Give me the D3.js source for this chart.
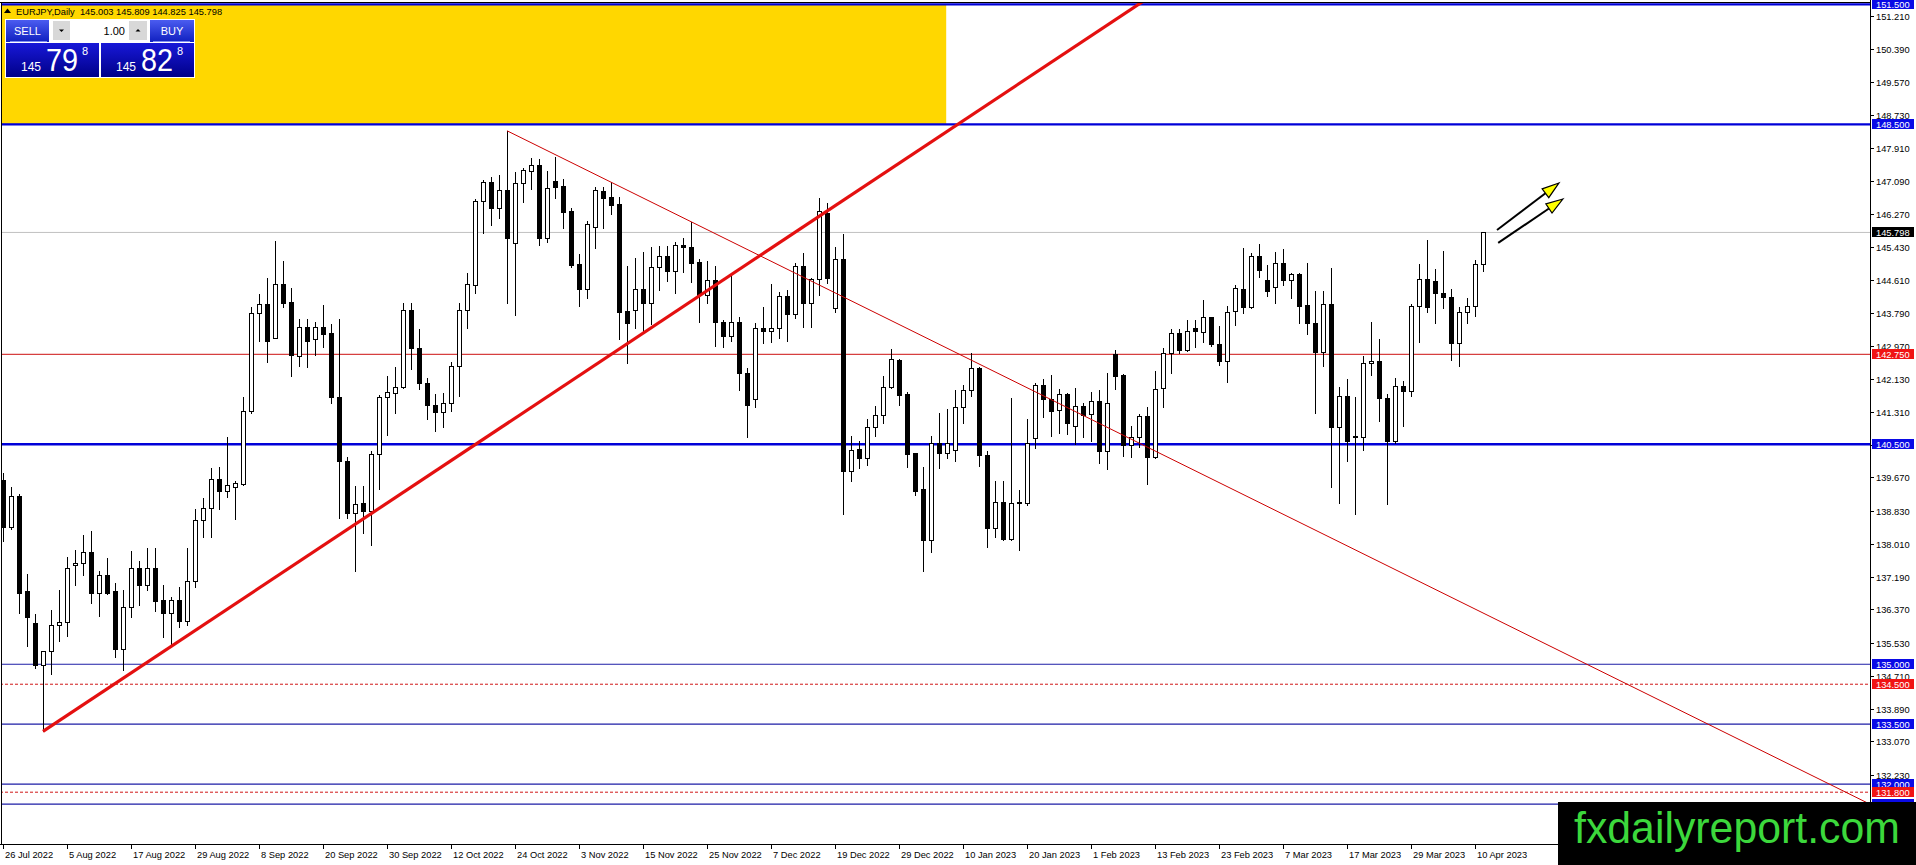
<!DOCTYPE html>
<html lang="en">
<head>
<meta charset="UTF-8">
<title>EURJPY, Daily</title>
<script src="https://d3js.org/d3.v7.min.js"></script>
<style>
    html, body {
        margin: 0;
        padding: 0;
        background: #fff;
        overflow: hidden;
    }
    svg {
        display: block;
        font-family: "Liberation Sans", Arial, sans-serif;
    }
</style>
</head>
<body>
<svg id="chart" width="1916" height="865"></svg>
<script>
// daily candles, 26 Jul 2022 .. 12 Apr 2023 (bar index = position)
const opens = [
    139.61, 138.43, 139.21, 136.82, 136.03, 134.99, 135.32, 135.97, 136.05, 137.47,
    137.53, 137.80, 136.79, 137.24, 136.82, 135.38, 136.43, 137.40, 136.98, 137.40,
    136.61, 136.28, 136.61, 136.09, 137.08, 138.61, 138.90, 139.63, 139.34, 139.43,
    139.51, 141.34, 143.79, 144.00, 143.15, 144.50, 144.07, 142.71, 143.44, 143.13,
    143.44, 143.28, 141.68, 140.07, 138.78, 139.03, 138.82, 140.25, 141.68, 141.78,
    141.93, 143.86, 142.92, 142.03, 141.47, 141.30, 141.53, 142.46, 143.86, 144.49,
    146.59, 147.07, 146.40, 146.86, 145.53, 147.03, 147.34, 147.49, 145.67, 147.08,
    146.96, 146.33, 145.01, 144.39, 145.94, 146.84, 146.68, 146.51, 143.84, 143.86,
    144.38, 144.04, 144.93, 145.21, 144.84, 145.48, 145.44, 145.07, 144.24, 144.61,
    143.57, 143.21, 143.57, 142.28, 141.63, 143.40, 143.34, 143.42, 144.21, 143.76,
    144.96, 144.04, 144.63, 146.28, 143.90, 145.14, 139.84, 140.38, 140.15, 140.94,
    141.23, 141.93, 142.61, 141.75, 140.28, 139.38, 138.11, 140.54, 140.29, 140.36,
    141.43, 141.86, 142.40, 140.23, 138.40, 139.05, 138.13, 139.03, 139.03, 140.65,
    141.99, 141.63, 141.36, 141.76, 140.96, 141.46, 141.26, 141.58, 140.32, 142.76,
    142.23, 140.49, 140.69, 141.21, 140.18, 141.90, 142.79, 143.29, 142.86, 143.40,
    143.32, 143.68, 143.01, 142.59, 143.84, 144.38, 143.94, 145.21, 144.61, 144.43,
    145.04, 144.61, 144.75, 143.99, 143.53, 142.82, 144.00, 140.94, 141.72, 140.71,
    140.68, 142.54, 142.59, 141.65, 140.59, 141.97, 141.84, 143.97, 144.63, 144.59,
    144.28, 144.18, 143.03, 143.80, 143.97, 145.003
];
const highs = [
    139.78, 139.44, 139.26, 137.26, 136.26, 135.34, 136.36, 136.86, 137.68, 137.86,
    138.23, 138.32, 137.32, 137.65, 137.03, 136.86, 137.82, 137.59, 137.90, 137.90,
    136.98, 136.69, 136.93, 137.90, 138.88, 139.15, 139.90, 139.93, 140.69, 139.57,
    141.69, 143.93, 144.26, 144.65, 145.59, 145.09, 144.40, 143.64, 143.64, 143.57,
    143.99, 143.50, 143.64, 140.18, 139.46, 139.46, 140.34, 141.74, 142.21, 142.43,
    144.03, 144.03, 143.39, 142.17, 141.75, 141.78, 142.57, 144.04, 144.78, 146.64,
    147.11, 147.19, 147.23, 148.34, 147.32, 147.42, 147.65, 147.63, 147.34, 147.69,
    147.13, 146.40, 145.26, 146.09, 146.93, 146.93, 147.07, 146.68, 144.97, 145.17,
    145.32, 145.44, 145.46, 145.46, 145.57, 145.65, 146.07, 145.13, 145.09, 144.96,
    143.61, 144.78, 143.68, 142.40, 143.54, 143.94, 144.50, 144.32, 144.36, 145.04,
    145.28, 144.67, 146.65, 146.54, 145.43, 145.76, 140.71, 140.59, 141.13, 141.46,
    142.21, 142.89, 142.63, 141.80, 140.29, 139.93, 140.71, 141.28, 141.38, 141.86,
    141.99, 142.79, 142.44, 140.33, 139.57, 139.57, 141.65, 139.36, 141.13, 142.03,
    142.13, 142.24, 141.88, 141.78, 141.90, 141.54, 141.82, 141.86, 142.28, 142.85,
    142.25, 140.96, 141.25, 141.44, 142.34, 142.90, 143.38, 143.38, 143.61, 143.61,
    144.11, 143.69, 143.47, 143.96, 144.49, 145.40, 145.28, 145.51, 144.99, 145.32,
    145.38, 144.79, 144.78, 145.03, 144.34, 144.34, 144.90, 141.93, 142.13, 141.68,
    142.71, 143.55, 143.14, 141.76, 142.15, 142.09, 144.00, 145.01, 145.61, 144.88,
    145.34, 144.39, 143.94, 144.17, 145.11, 145.809
];
const lows = [
    138.07, 138.38, 136.29, 135.46, 134.90, 133.32, 134.76, 135.57, 135.71, 136.98,
    137.24, 136.53, 136.21, 136.75, 135.19, 134.86, 136.19, 136.48, 136.86, 136.32,
    135.68, 135.48, 135.94, 135.98, 136.94, 138.19, 138.19, 138.88, 139.19, 138.63,
    139.48, 141.29, 143.09, 142.57, 143.15, 143.94, 142.22, 142.47, 142.44, 142.73,
    142.94, 141.54, 138.65, 138.65, 137.32, 138.28, 137.99, 139.38, 140.72, 141.29,
    141.90, 142.38, 141.88, 141.13, 140.82, 140.93, 141.32, 141.71, 143.40, 144.29,
    145.78, 145.98, 146.15, 144.04, 143.74, 146.57, 146.89, 145.49, 145.55, 146.65,
    145.90, 144.94, 143.97, 144.17, 145.42, 145.92, 146.25, 143.13, 142.53, 143.40,
    143.29, 143.50, 144.36, 144.59, 144.28, 144.82, 144.57, 143.57, 144.03, 142.96,
    142.94, 143.09, 141.86, 140.69, 141.44, 143.03, 143.07, 143.17, 143.09, 143.65,
    143.44, 143.43, 144.24, 144.53, 143.82, 138.76, 139.57, 139.90, 139.98, 140.71,
    141.04, 141.90, 141.49, 139.92, 139.22, 137.32, 137.80, 139.90, 140.15, 140.09,
    141.03, 141.72, 139.96, 137.94, 138.17, 138.10, 138.10, 137.86, 138.97, 140.40,
    141.19, 140.71, 140.79, 140.76, 140.51, 140.68, 140.57, 140.03, 139.88, 141.89,
    140.21, 140.19, 140.44, 139.50, 140.15, 141.44, 142.28, 142.78, 142.84, 142.94,
    143.07, 142.97, 142.49, 142.07, 143.49, 143.79, 143.90, 144.69, 144.21, 144.04,
    144.49, 144.17, 143.53, 143.26, 141.29, 142.47, 139.43, 139.04, 140.07, 138.75,
    140.36, 142.24, 141.09, 139.00, 140.53, 140.96, 141.72, 143.07, 143.82, 143.54,
    143.90, 142.61, 142.47, 143.53, 143.72, 144.825
];
const closes = [
    138.44, 139.21, 136.79, 136.17, 134.99, 135.32, 135.97, 136.05, 137.40, 137.53,
    137.80, 136.79, 137.24, 136.79, 135.38, 136.43, 137.40, 136.98, 137.40, 136.59,
    136.28, 136.61, 136.09, 137.08, 138.61, 138.90, 139.63, 139.34, 139.48, 139.53,
    141.34, 143.79, 144.00, 143.09, 144.50, 144.04, 142.73, 143.44, 143.09, 143.44,
    143.25, 141.68, 140.07, 138.78, 139.00, 138.82, 140.25, 141.68, 141.80, 141.93,
    143.86, 142.92, 142.04, 141.47, 141.30, 141.53, 142.46, 143.86, 144.51, 146.59,
    147.07, 146.40, 146.86, 145.67, 147.03, 147.36, 147.49, 145.67, 146.90, 146.94,
    146.32, 144.98, 144.39, 146.00, 146.86, 146.67, 146.49, 143.82, 143.54, 144.38,
    144.04, 144.93, 145.21, 144.84, 145.48, 145.43, 145.04, 144.24, 144.61, 143.57,
    143.21, 143.57, 142.29, 141.47, 143.40, 143.34, 143.42, 144.21, 143.76, 144.96,
    144.04, 144.64, 146.34, 144.65, 145.13, 139.84, 140.36, 140.15, 140.93, 141.23,
    141.93, 142.63, 141.74, 140.25, 139.34, 138.11, 140.54, 140.29, 140.54, 141.43,
    141.86, 142.40, 140.23, 138.40, 139.05, 138.13, 139.03, 139.06, 140.53, 141.99,
    141.63, 141.34, 141.76, 141.04, 141.46, 141.23, 141.59, 140.32, 141.53, 142.22,
    140.49, 140.69, 141.21, 140.18, 141.88, 142.79, 143.29, 142.86, 143.34, 143.34,
    143.68, 143.01, 142.59, 143.82, 144.40, 143.94, 145.21, 144.86, 144.34, 145.04,
    144.61, 144.75, 143.97, 143.53, 142.82, 144.00, 140.94, 141.72, 140.57, 140.68,
    142.54, 142.59, 141.65, 140.57, 141.97, 141.84, 143.97, 144.63, 143.94, 144.28,
    144.18, 143.04, 143.80, 143.97, 145.00, 145.798
];

// time axis: label text and the bar it sits on
const dateLabels = [
    "26 Jul 2022", "5 Aug 2022", "17 Aug 2022", "29 Aug 2022", "8 Sep 2022",
    "20 Sep 2022", "30 Sep 2022", "12 Oct 2022", "24 Oct 2022", "3 Nov 2022",
    "15 Nov 2022", "25 Nov 2022", "7 Dec 2022", "19 Dec 2022", "29 Dec 2022",
    "10 Jan 2023", "20 Jan 2023", "1 Feb 2023", "13 Feb 2023", "23 Feb 2023",
    "7 Mar 2023", "17 Mar 2023", "29 Mar 2023", "10 Apr 2023"
];
const dateBars = [0, 8, 16, 24, 32, 40, 48, 56, 64, 72, 80, 88, 96, 104, 112,
                  120, 128, 136, 144, 152, 160, 168, 176, 184];

// price axis ticks
const priceTicks = [
    151.21, 150.39, 149.57, 148.73, 147.91, 147.09, 146.27, 145.43, 144.61,
    143.79, 142.97, 142.13, 141.31, 140.49, 139.67, 138.83, 138.01, 137.19,
    136.37, 135.53, 134.71, 133.89, 133.07, 132.23
];

// horizontal levels and their kind
const levelPrices = [151.5, 148.5, 145.798, 142.75, 140.5, 135.0, 134.5, 133.5, 132.0, 131.8, 131.5];
const levelKinds  = ["blueBold", "blueBold", "bid", "redSolid", "blueBold", "blue", "redDash", "blue", "blue", "redDash", "blue"];

// trend lines: two anchors each [bar, price]
const riseLine = [[5, 133.32], [92.75, 144.97]];
const fallLine = [[63, 148.34], [166.3, 138.13]];

// arrows [bar, price] from -> to
const arrows = [
    [[186.75, 145.86], [194.5, 147.035]],
    [[186.9, 145.535], [195, 146.635]]
];

// yellow zone: bars and prices
const zoneBars = [-5, 117.9];
const zonePrices = [151.5, 148.5];

const symbolInfo = "EURJPY,Daily  145.003 145.809 144.825 145.798";

// ---------- layout ----------
const W = 1916, H = 865;
const plotRight = 1870, plotBottom = 844;

const kindStyle = {
    blueBold: { stroke: "#0000d8", width: 2.4, dash: null, box: "#0a0ae6" },
    blue:     { stroke: "#1c1ca6", width: 1.2, dash: null, box: "#0a0ae6" },
    bid:      { stroke: "#c0c0c0", width: 1, dash: null, box: "#000000" },
    redSolid: { stroke: "#cc1010", width: 1, dash: null, box: "#f01414" },
    redDash:  { stroke: "#d01818", width: 1, dash: "3,2", box: "#f01414" }
};

const svg = d3.select("#chart");

const x = d3.scaleLinear().domain([0, 233.375]).range([3, plotRight]);
const y = d3.scaleLinear().domain([151.21, 132.23]).range([16, 775]);
const px = (v) => Math.round(v) + 0.5;

svg.append("defs").append("clipPath").attr("id", "plotClip")
    .append("rect").attr("x", 2).attr("y", 2).attr("width", plotRight - 2).attr("height", plotBottom - 2);

const defs = svg.select("defs");
const g1 = defs.append("linearGradient").attr("id", "btnGrad").attr("x1", 0).attr("y1", 0).attr("x2", 0).attr("y2", 1);
g1.append("stop").attr("offset", "0%").attr("stop-color", "#4b5cf0");
g1.append("stop").attr("offset", "100%").attr("stop-color", "#1020c0");
const g2 = defs.append("linearGradient").attr("id", "priceGrad").attr("x1", 0).attr("y1", 0).attr("x2", 0).attr("y2", 1);
g2.append("stop").attr("offset", "0%").attr("stop-color", "#1818d8");
g2.append("stop").attr("offset", "100%").attr("stop-color", "#000088");

const plot = svg.append("g").attr("clip-path", "url(#plotClip)");

// yellow zone
plot.append("rect")
    .attr("x", x(zoneBars[0]))
    .attr("y", y(zonePrices[0]))
    .attr("width", x(zoneBars[1]) - x(zoneBars[0]))
    .attr("height", y(zonePrices[1]) - y(zonePrices[0]))
    .attr("fill", "#ffd700");

// horizontal levels
levelPrices.forEach((p, i) => {
    const s = kindStyle[levelKinds[i]];
    plot.append("line")
        .attr("x1", 0).attr("x2", plotRight)
        .attr("y1", y(p)).attr("y2", y(p))
        .attr("stroke", s.stroke)
        .attr("stroke-width", s.width)
        .attr("stroke-dasharray", s.dash);
});

// candles
const bars = d3.range(opens.length);
plot.selectAll("line.wick")
    .data(bars)
    .enter()
    .append("line")
    .attr("class", "wick")
    .attr("x1", (i) => px(x(i))).attr("x2", (i) => px(x(i)))
    .attr("y1", (i) => Math.round(y(highs[i])))
    .attr("y2", (i) => Math.round(y(lows[i])) + 1)
    .attr("stroke", "#000")
    .attr("stroke-width", 1);

plot.selectAll("rect.body")
    .data(bars)
    .enter()
    .append("rect")
    .attr("class", "body")
    .attr("x", (i) => Math.round(x(i)) - 2 + 0.5)
    .attr("y", (i) => px(y(Math.max(opens[i], closes[i]))))
    .attr("width", 4)
    .attr("height", (i) => Math.max(1, Math.round(y(Math.min(opens[i], closes[i]))) - Math.round(y(Math.max(opens[i], closes[i])))))
    .attr("fill", (i) => (closes[i] >= opens[i] ? "#fff" : "#000"))
    .attr("stroke", "#000")
    .attr("stroke-width", 1);

// trend lines (rays to the right)
function rayEnd(line, toBar) {
    const [a, b] = line;
    const slope = (b[1] - a[1]) / (b[0] - a[0]);
    return [toBar, a[1] + slope * (toBar - a[0])];
}
const xMax = x.domain()[1];
const fallEnd = rayEnd(fallLine, xMax);
plot.append("line")
    .attr("x1", x(fallLine[0][0])).attr("y1", y(fallLine[0][1]))
    .attr("x2", x(fallEnd[0])).attr("y2", y(fallEnd[1]))
    .attr("stroke", "#cc0000").attr("stroke-width", 1);

const riseEnd = rayEnd(riseLine, xMax);
plot.append("line")
    .attr("x1", x(riseLine[0][0])).attr("y1", y(riseLine[0][1]))
    .attr("x2", x(riseEnd[0])).attr("y2", y(riseEnd[1]))
    .attr("stroke", "#e41010").attr("stroke-width", 3.2);

// arrows
arrows.forEach(([a, b]) => {
    const x1 = x(a[0]), y1 = y(a[1]), x2 = x(b[0]), y2 = y(b[1]);
    const ang = Math.atan2(y2 - y1, x2 - x1);
    const len = 17, half = 5.5;
    const bx = x2 - len * Math.cos(ang), by = y2 - len * Math.sin(ang);
    plot.append("line")
        .attr("x1", x1).attr("y1", y1).attr("x2", bx).attr("y2", by)
        .attr("stroke", "#000").attr("stroke-width", 2);
    const pts = [
        [x2, y2],
        [bx + half * Math.sin(ang), by - half * Math.cos(ang)],
        [bx - half * Math.sin(ang), by + half * Math.cos(ang)]
    ];
    plot.append("polygon")
        .attr("points", pts.map((p) => p.join(",")).join(" "))
        .attr("fill", "#ffff00").attr("stroke", "#000").attr("stroke-width", 1.2);
});

// frame and axes
svg.append("line").attr("x1", 0).attr("x2", plotRight).attr("y1", 2.5).attr("y2", 2.5).attr("stroke", "#000");
svg.append("line").attr("x1", 1.5).attr("x2", 1.5).attr("y1", 2).attr("y2", plotBottom).attr("stroke", "#000");
svg.append("line").attr("x1", plotRight + 0.5).attr("x2", plotRight + 0.5).attr("y1", 0).attr("y2", plotBottom + 1).attr("stroke", "#000");
svg.append("line").attr("x1", 0).attr("x2", plotRight + 1).attr("y1", plotBottom + 0.5).attr("y2", plotBottom + 0.5).attr("stroke", "#000");

// price ticks
const yAxis = svg.append("g");
priceTicks.forEach((p) => {
    const yy = px(y(p));
    yAxis.append("line").attr("x1", plotRight).attr("x2", plotRight + 4).attr("y1", yy).attr("y2", yy).attr("stroke", "#000");
    yAxis.append("text")
        .attr("x", plotRight + 6).attr("y", yy + 3.3)
        .attr("font-size", "9.3px").attr("fill", "#000")
        .text(p.toFixed(3));
});

// level labels
levelPrices.forEach((p, i) => {
    const s = kindStyle[levelKinds[i]];
    const yy = Math.round(y(p));
    yAxis.append("rect")
        .attr("x", plotRight + 2).attr("y", yy - 5)
        .attr("width", 42).attr("height", 10)
        .attr("fill", s.box);
    yAxis.append("text")
        .attr("x", plotRight + 6).attr("y", yy + 3.5)
        .attr("font-size", "9.3px").attr("fill", "#fff")
        .text(p.toFixed(3));
});

// date ticks
const xAxis = svg.append("g");
dateLabels.forEach((lab, i) => {
    const xx = px(x(dateBars[i]));
    xAxis.append("line").attr("x1", xx).attr("x2", xx).attr("y1", plotBottom).attr("y2", plotBottom + 5).attr("stroke", "#000");
    xAxis.append("text")
        .attr("x", xx + 1.5).attr("y", plotBottom + 14)
        .attr("font-size", "9.3px").attr("fill", "#000")
        .text(lab);
});

// header text
svg.append("path").attr("d", "M4,13 L7.5,8.5 L11,13 Z").attr("fill", "#000");
svg.append("text").attr("x", 16).attr("y", 15)
    .attr("font-size", "9.3px").attr("fill", "#000")
    .attr("xml:space", "preserve")
    .text(symbolInfo);

// one-click trading panel
const panel = svg.append("g");
panel.append("rect").attr("x", 5).attr("y", 19).attr("width", 190).attr("height", 59).attr("fill", "#fff");
panel.append("rect").attr("x", 6).attr("y", 20).attr("width", 43).attr("height", 22).attr("fill", "url(#btnGrad)");
panel.append("rect").attr("x", 150).attr("y", 20).attr("width", 44).attr("height", 22).attr("fill", "url(#btnGrad)");
panel.append("line").attr("x1", 10).attr("x2", 47).attr("y1", 41.5).attr("y2", 41.5).attr("stroke", "#8090f0");
panel.append("line").attr("x1", 153).attr("x2", 190).attr("y1", 41.5).attr("y2", 41.5).attr("stroke", "#8090f0");
panel.append("text").attr("x", 27.5).attr("y", 35).attr("text-anchor", "middle")
    .attr("font-size", "11px").attr("fill", "#fff").text("SELL");
panel.append("text").attr("x", 172).attr("y", 35).attr("text-anchor", "middle")
    .attr("font-size", "11px").attr("fill", "#fff").text("BUY");
panel.append("rect").attr("x", 53).attr("y", 21).attr("width", 17).attr("height", 19).attr("fill", "#d8d8d8");
panel.append("rect").attr("x", 129).attr("y", 21).attr("width", 18).attr("height", 19).attr("fill", "#d8d8d8");
panel.append("path").attr("d", "M59,29.5 L64,29.5 L61.5,32 Z").attr("fill", "#000");
panel.append("path").attr("d", "M135.5,31.5 L140.5,31.5 L138,29 Z").attr("fill", "#000");
panel.append("text").attr("x", 125).attr("y", 34.5).attr("text-anchor", "end")
    .attr("font-size", "11px").attr("fill", "#000").text("1.00");
panel.append("rect").attr("x", 6).attr("y", 43).attr("width", 93).attr("height", 34).attr("fill", "url(#priceGrad)");
panel.append("rect").attr("x", 101).attr("y", 43).attr("width", 93).attr("height", 34).attr("fill", "url(#priceGrad)");

const bidTxt = closes[closes.length - 1];
const askTxt = 145.828;
function priceParts(v) {
    const s = v.toFixed(3);
    return [s.slice(0, 3), s.slice(4, 6), s.slice(6)];
}
[[bidTxt, 0], [askTxt, 95]].forEach(([v, dx]) => {
    const [a, b, c] = priceParts(v);
    panel.append("text").attr("x", 21 + dx).attr("y", 71).attr("font-size", "12px").attr("fill", "#fff").text(a);
    panel.append("text").attr("x", 46 + dx).attr("y", 71).attr("font-size", "32px").attr("fill", "#fff")
        .attr("textLength", 32).attr("lengthAdjust", "spacingAndGlyphs").text(b);
    panel.append("text").attr("x", 82 + dx).attr("y", 55).attr("font-size", "11px").attr("fill", "#fff").text(c);
});

// watermark
svg.append("rect").attr("x", 1558).attr("y", 802).attr("width", W - 1558).attr("height", H - 802).attr("fill", "#000");
svg.append("text").attr("x", 1574).attr("y", 843)
    .attr("font-size", "44px").attr("fill", "#3cd83c")
    .attr("textLength", 326).attr("lengthAdjust", "spacingAndGlyphs")
    .text("fxdailyreport.com");
</script>
</body>
</html>
